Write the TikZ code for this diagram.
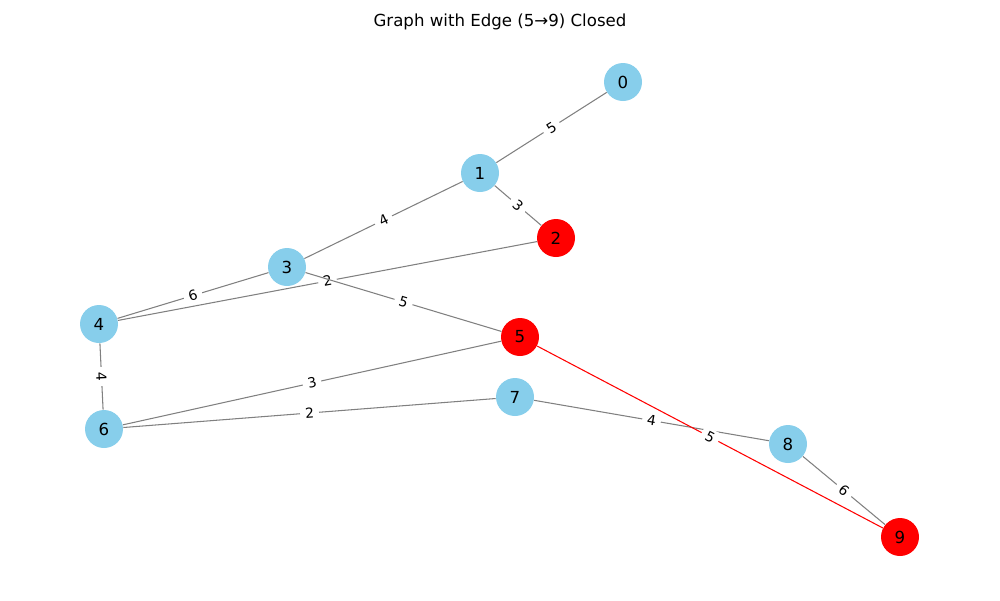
\documentclass[tikz,border=0pt]{standalone}
\usepackage{fontspec}
\setmainfont{DejaVu Sans}
\begin{document}
\begin{tikzpicture}[x=0.02cm,y=-0.02cm,
  vtx/.style={circle,minimum size=0.76cm,inner sep=0pt,font=\fontsize{9.45}{11}\selectfont},
  blue/.style={vtx,fill={rgb,255:red,135;green,206;blue,235}},
  hot/.style={vtx,fill=red},
  edge/.style={draw={rgb,255:red,128;green,128;blue,128},line width=0.6pt},
  redge/.style={draw=red,line width=0.6pt},
  elab/.style={midway,sloped,fill=white,rounded corners=1.5pt,inner xsep=2.8pt,inner ysep=1.6pt,font=\fontsize{7.9}{9}\selectfont}]
\useasboundingbox (0,0) rectangle (1000,600);
\node[font=\fontsize{9.45}{11}\selectfont] (title) at (500,22) {Graph with Edge (5→9) Closed};
\node[blue] (n0) at (623,82) {0};
\node[blue] (n1) at (480,173) {1};
\node[hot] (n2) at (556,238) {2};
\node[blue] (n3) at (287,267) {3};
\node[blue] (n4) at (99,324) {4};
\node[hot] (n5) at (520,337) {5};
\node[blue] (n6) at (104,429) {6};
\node[blue] (n7) at (515,397) {7};
\node[blue] (n8) at (788,444) {8};
\node[hot] (n9) at (900,537) {9};
\path[edge] (n1) -- (n0) node[elab] {5};
\path[edge] (n1) -- (n2) node[elab] {3};
\path[edge] (n3) -- (n1) node[elab] {4};
\path[edge] (n4) -- (n3) node[elab] {6};
\path[edge] (n4) -- (n2) node[elab] {2};
\path[edge] (n3) -- (n5) node[elab] {5};
\path[edge] (n4) -- (n6) node[elab] {4};
\path[edge] (n6) -- (n5) node[elab] {3};
\path[edge] (n6) -- (n7) node[elab] {2};
\path[edge] (n7) -- (n8) node[elab] {4};
\path[edge] (n8) -- (n9) node[elab] {6};
\path[redge] (n5) -- (n9) node[elab] {5};
\end{tikzpicture}
\end{document}
